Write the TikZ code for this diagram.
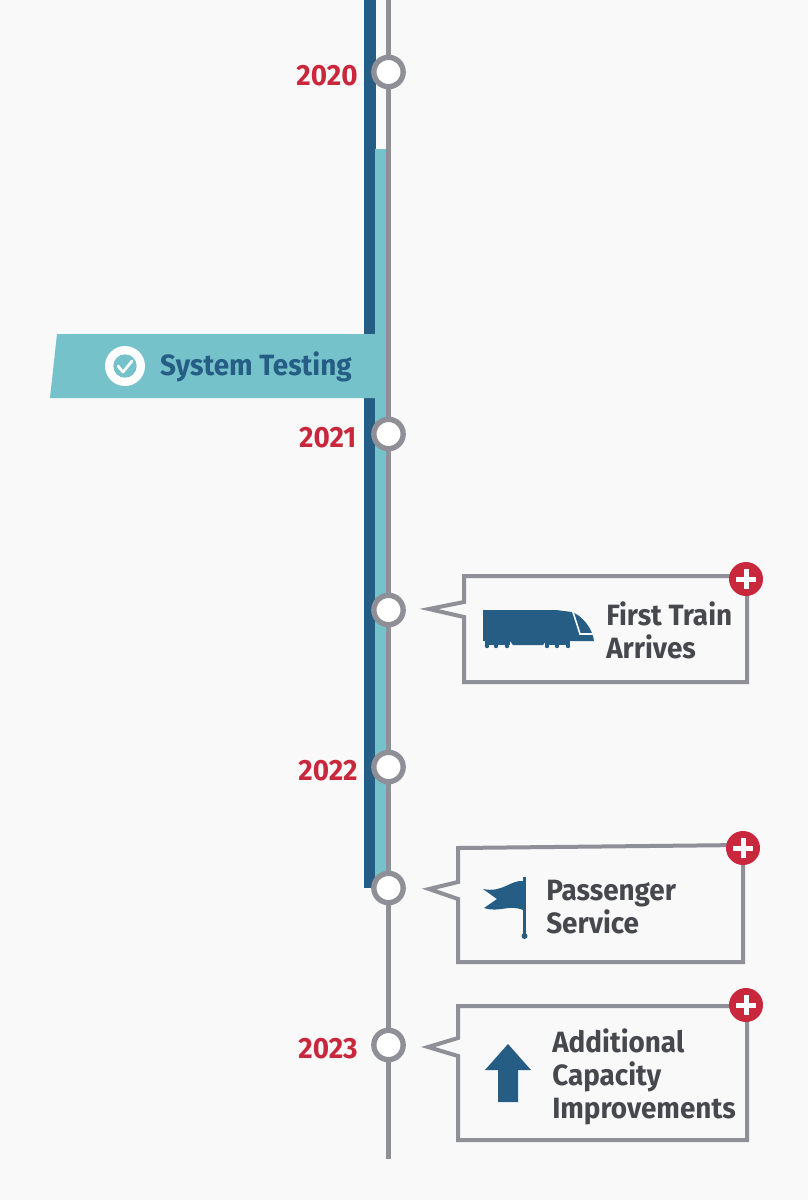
\documentclass[tikz,border=0pt]{standalone}
\usepackage{fontspec}
\setmainfont[FakeStretch=0.95]{Fira Sans}
\usetikzlibrary{positioning}
\definecolor{pagewhite}{HTML}{F9F9FA}
\definecolor{linegray}{HTML}{8E8F97}
\definecolor{trackblue}{HTML}{255D85}
\definecolor{bannerteal}{HTML}{76C2CB}
\definecolor{yearred}{HTML}{C9283C}
\definecolor{labelgray}{HTML}{47484E}

\begin{document}
\begin{tikzpicture}[
    x=0.75pt, y=-0.75pt,
    trunk/.style={draw=linegray, line width=4.4pt},
    milestone/.style={
        circle, draw=linegray, line width=4pt, fill=white,
        minimum size=22pt, inner sep=0pt
    },
    year/.style={font=\fontsize{22}{26}\selectfont\bfseries, text=yearred, inner sep=0pt},
    callout/.style={draw=linegray, line width=3pt, fill=pagewhite, line join=miter},
    boxlabel/.style={
        font=\fontsize{22}{24.6}\selectfont\bfseries, text=labelgray,
        align=left, inner sep=0pt, anchor=west
    },
    badge/.style={circle, fill=yearred, minimum size=25.5pt, inner sep=0pt},
    icon/.style={fill=trackblue, draw=none}
]

% Page
\fill[pagewhite] (0,0) rectangle (808,1200);
\useasboundingbox (0,0) rectangle (808,1200);

% Tracks
\fill[trackblue] (364,0) rectangle (376,888);
\fill[bannerteal] (375,149) rectangle (387,882);

% Banner
\fill[bannerteal] (57,334) -- (386,334) -- (386,398) -- (50,398) -- cycle;
\node[circle, fill=white, minimum size=30pt, inner sep=0pt] (checkring) at (125,366) {};
\node[circle, fill=bannerteal, minimum size=17.5pt, inner sep=0pt] (checkdisc) at (125,366) {};
\draw[white, line width=2pt, line cap=round, line join=round] (118,366) -- (123,372) -- (132,361);
\node[font=\fontsize{22}{26}\selectfont\bfseries, text=trackblue, inner sep=0pt, anchor=east] (testing) at (352,367) {System Testing};

% Milestones
\coordinate (start) at (388.5,0);
\coordinate (finish) at (388.5,1159);
\node[milestone] (m2020) at (388.5,72) {};
\node[milestone] (m2021) at (388.5,434) {};
\node[milestone] (mtrain) at (388.5,610) {};
\node[milestone] (m2022) at (388.5,767) {};
\node[milestone] (mservice) at (388.5,888) {};
\node[milestone] (m2023) at (388.5,1045) {};

\draw[trunk] (start) -- (m2020);
\draw[trunk] (m2020) -- (m2021);
\draw[trunk] (m2021) -- (mtrain);
\draw[trunk] (mtrain) -- (m2022);
\draw[trunk] (m2022) -- (mservice);
\draw[trunk] (mservice) -- (m2023);
\draw[trunk] (m2023) -- (finish);

% Years
\node[year, left=10pt of m2020, yshift=-3pt] (y2020) {2020};
\node[year, left=11pt of m2021, yshift=-3pt] (y2021) {2021};
\node[year, left=10pt of m2022, yshift=-3pt] (y2022) {2022};
\node[year, left=10pt of m2023, yshift=-3pt] (y2023) {2023};

% Callouts
\draw[callout] (464,576) -- (747,576) -- (747,682) -- (464,682) -- (464,617) -- (429,609) -- (464,602) -- cycle;
\draw[callout] (458,848) -- (743,845) -- (743,962) -- (458,962) -- (458,899) -- (429,889) -- (458,882) -- cycle;
\draw[callout] (458,1006) -- (747,1006) -- (747,1140) -- (458,1140) -- (458,1056) -- (428,1047) -- (458,1038) -- cycle;

% Labels
\node[boxlabel] (train) at (606,630) {First Train\\Arrives};
\node[boxlabel] (service) at (546,907) {Passenger\\Service};
\node[boxlabel] (capacity) at (552,1077) {Additional\\Capacity\\Improvements};

% Badges
\foreach \name/\px/\py in {btrain/746/579, bservice/743/848, bcapacity/746/1005} {
    \node[badge] (\name) at (\px,\py) {};
    \fill[white] (\px-10,\py-2.5) rectangle (\px+10,\py+2.5);
    \fill[white] (\px-2.5,\py-10) rectangle (\px+2.5,\py+10);
}

% Train icon
\fill[icon] (483,610) -- (556,610) -- (572,612) .. controls (582,616) and (590,626) .. (593,636)
    -- (594,641) -- (546,641) -- (543,645) -- (513,645) -- (510,641) -- (483,641) -- cycle;
\draw[pagewhite, line width=1.2pt] (573,612) -- (580,634) -- (593,634);
\fill[icon] (485,641) rectangle (510,645);
\fill[icon] (545,641) rectangle (570,645);
\foreach \wx in {487,496,507,547,557,568} {
    \fill[icon] (\wx,646) circle (2.2);
}

% Flag icon
\draw[trackblue, line width=2.5pt] (524.5,877) -- (524.5,936);
\fill[icon] (524.5,936) circle (3);
\fill[icon] (523,881) .. controls (510,880) and (503,893) .. (483,889) -- (497,899) -- (484,908)
    .. controls (500,913) and (508,904) .. (523,910) -- cycle;

% Arrow icon
\fill[icon] (508,1044) -- (531,1070) -- (518,1070) -- (518,1102) -- (498,1102) -- (498,1070) -- (485,1070) -- cycle;

\end{tikzpicture}
\end{document}
